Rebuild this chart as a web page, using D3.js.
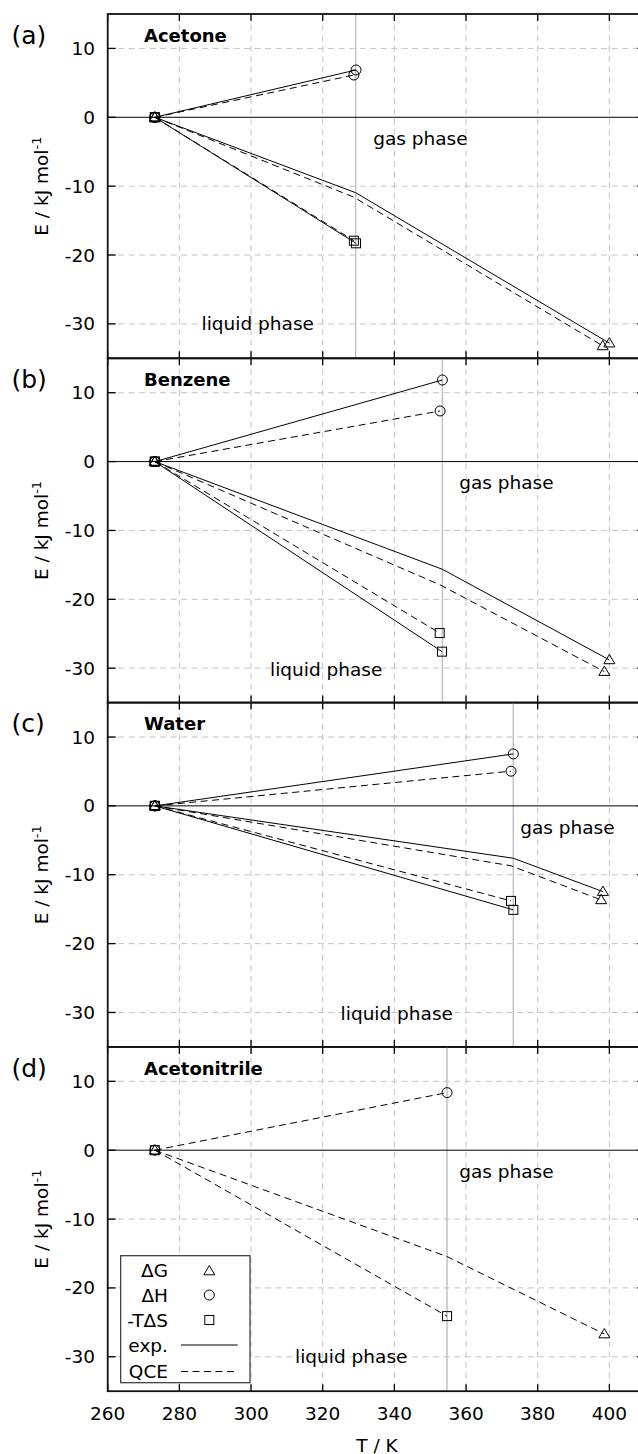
<!DOCTYPE html>
<html><head><meta charset="utf-8">
<script src="https://cdn.jsdelivr.net/npm/d3@7"></script>
<style>body{margin:0;background:#fff} text{font-family:"DejaVu Sans",sans-serif;fill:#000}</style>
</head><body>
<svg id="chart" width="638" height="1454" xmlns="http://www.w3.org/2000/svg"></svg>
<script>
// ---------- data ----------
const panelNames = ["Acetone", "Benzene", "Water", "Acetonitrile"];
const panelTags = ["(a)", "(b)", "(c)", "(d)"];
const meltT = 273.15;                       // common start point (E = 0)
const boilT = [329.2, 353.4, 373.2, 354.7]; // grey vertical lines

// experimental (null = not available)
const expH_T   = [329.3, 353.4, 373.2, null];
const expH_E   = [6.87, 11.85, 7.55, null];
const expS_T   = [329.3, 353.3, 373.2, null];
const expS_E   = [-18.3, -27.6, -15.1, null];
const expGk_T  = [329.2, 353.4, 373.2, null];
const expGk_E  = [-10.95, -15.64, -7.6, null];
const expGe_T  = [400.0, 400.0, 398.2, null];
const expGe_E  = [-32.8, -28.8, -12.45, null];

// QCE
const qceH_T   = [328.7, 352.75, 372.55, 354.7];
const qceH_E   = [6.14, 7.35, 5.04, 8.36];
const qceS_T   = [328.7, 352.65, 372.55, 354.7];
const qceS_E   = [-17.92, -24.9, -13.8, -24.1];
const qceGk_T  = [328.7, 352.75, 372.55, 354.7];
const qceGk_E  = [-11.6, -17.9, -8.7, -15.45];
const qceGe_T  = [398.15, 398.6, 397.7, 398.6];
const qceGe_E  = [-33.2, -30.5, -13.65, -26.7];

// annotation anchors (data coordinates)
const gasLabelT    = [334.1, 358.1, 375.1, 358.1];
const gasLabelE    = [-3.1, -3.1, -3.1, -3.1];
const liquidLabelT = [286.2, 305.3, 325.0, 312.3];
const liquidLabelE = [-30.0, -30.2, -30.1, -30.0];

const xTicks = [260, 280, 300, 320, 340, 360, 380, 400];
const yTicks = [10, 0, -10, -20, -30];
const xDomain = [260, 410];
const yDomain = [-35, 15];

const legendLabels = ["ΔG", "ΔH", "-TΔS", "exp.", "QCE"];

// ---------- layout ----------
const svg = d3.select("#chart");
const left = 107.7, right = 645.2;
const top0 = 14, ph = 344.3;
const x = d3.scaleLinear().domain(xDomain).range([left, right]);
const FS = 18.5;
const gridDash = "6,4.5", dataDash = "7,4.5";

function marker(g, type, px, py) {
  if (type === "tri") {
    g.append("path").attr("d", `M${px},${py-5.5}L${px+5.5},${py+3.8}L${px-5.5},${py+3.8}Z`)
      .attr("fill", "none").attr("stroke", "#000").attr("stroke-width", 1);
  } else if (type === "circ") {
    g.append("circle").attr("cx", px).attr("cy", py).attr("r", 5)
      .attr("fill", "none").attr("stroke", "#000").attr("stroke-width", 1);
  } else {
    g.append("rect").attr("x", px-4.5).attr("y", py-4.5).attr("width", 9).attr("height", 9)
      .attr("fill", "none").attr("stroke", "#000").attr("stroke-width", 1);
  }
}

for (let i = 0; i < 4; i++) {
  const t = top0 + i * ph, b = t + ph;
  const y = d3.scaleLinear().domain(yDomain).range([b, t]);
  const g = svg.append("g");

  // grid
  g.selectAll(".vg").data(xTicks.filter(v => v > xDomain[0])).enter().append("line")
    .attr("x1", d => x(d)).attr("x2", d => x(d)).attr("y1", t).attr("y2", b)
    .attr("stroke", "#c4c4c4").attr("stroke-width", 1).attr("stroke-dasharray", gridDash);
  g.selectAll(".hg").data(yTicks.filter(v => v !== 0)).enter().append("line")
    .attr("x1", left).attr("x2", right).attr("y1", d => y(d)).attr("y2", d => y(d))
    .attr("stroke", "#c4c4c4").attr("stroke-width", 1).attr("stroke-dasharray", gridDash);

  // boiling point line
  g.append("line").attr("x1", x(boilT[i])).attr("x2", x(boilT[i])).attr("y1", t).attr("y2", b)
    .attr("stroke", "#c2c2c2").attr("stroke-width", 1.5);

  // zero line
  g.append("line").attr("x1", left).attr("x2", right).attr("y1", y(0)).attr("y2", y(0))
    .attr("stroke", "#000").attr("stroke-width", 1);

  // data lines
  const line = d3.line().x(d => x(d[0])).y(d => y(d[1]));
  const sets = [
    {dash: null, H: [expH_T[i], expH_E[i]], S: [expS_T[i], expS_E[i]], Gk: [expGk_T[i], expGk_E[i]], Ge: [expGe_T[i], expGe_E[i]]},
    {dash: dataDash, H: [qceH_T[i], qceH_E[i]], S: [qceS_T[i], qceS_E[i]], Gk: [qceGk_T[i], qceGk_E[i]], Ge: [qceGe_T[i], qceGe_E[i]]}
  ];
  sets.forEach(s => {
    if (s.H[0] === null) return;
    const st = [meltT, 0];
    [[st, s.H], [st, s.S], [st, s.Gk, s.Ge]].forEach(pts => {
      g.append("path").attr("d", line(pts)).attr("fill", "none").attr("stroke", "#000")
        .attr("stroke-width", 1).attr("stroke-dasharray", s.dash);
    });
    marker(g, "circ", x(s.H[0]), y(s.H[1]));
    marker(g, "sq", x(s.S[0]), y(s.S[1]));
    marker(g, "tri", x(s.Ge[0]), y(s.Ge[1]));
    marker(g, "tri", x(meltT), y(0));
    marker(g, "circ", x(meltT), y(0));
    marker(g, "sq", x(meltT), y(0));
  });

  // ticks (inward)
  xTicks.forEach(v => {
    g.append("line").attr("x1", x(v)).attr("x2", x(v)).attr("y1", t).attr("y2", t + 7).attr("stroke", "#000").attr("stroke-width", 1.3);
    g.append("line").attr("x1", x(v)).attr("x2", x(v)).attr("y1", b).attr("y2", b - 7).attr("stroke", "#000").attr("stroke-width", 1.3);
  });
  yTicks.forEach(v => {
    g.append("line").attr("x1", left).attr("x2", left + 8).attr("y1", y(v)).attr("y2", y(v)).attr("stroke", "#000").attr("stroke-width", 1.3);
    g.append("line").attr("x1", right).attr("x2", right - 8).attr("y1", y(v)).attr("y2", y(v)).attr("stroke", "#000").attr("stroke-width", 1.3);
    g.append("text").attr("x", 95).attr("y", y(v)).attr("text-anchor", "end")
      .attr("dominant-baseline", "central").attr("font-size", FS).text(v);
  });

  // border
  g.append("rect").attr("x", left).attr("y", t).attr("width", right - left).attr("height", ph)
    .attr("fill", "none").attr("stroke", "#111").attr("stroke-width", 1.8);

  // texts
  g.append("text").attr("x", 144).attr("y", t + 27.6).attr("font-size", 18).attr("font-weight", "bold").text(panelNames[i]);
  g.append("text").attr("x", 11.5).attr("y", t + 21.3).attr("dominant-baseline", "central").attr("font-size", 25).text(panelTags[i]);
  g.append("text").attr("x", x(gasLabelT[i])).attr("y", y(gasLabelE[i])).attr("dominant-baseline", "central").attr("font-size", FS).text("gas phase");
  g.append("text").attr("x", x(liquidLabelT[i])).attr("y", y(liquidLabelE[i])).attr("dominant-baseline", "central").attr("font-size", FS).text("liquid phase");

  const yl = g.append("text").attr("transform", `translate(48,${t + ph / 2}) rotate(-90)`)
    .attr("text-anchor", "middle").attr("font-size", FS);
  yl.append("tspan").text("E / kJ mol");
  yl.append("tspan").attr("font-size", 13).attr("dy", -7).text("-1");

  if (i === 3) {
    xTicks.forEach(v => {
      g.append("text").attr("x", x(v)).attr("y", b + 22.3).attr("text-anchor", "middle")
        .attr("dominant-baseline", "central").attr("font-size", FS).text(v);
    });
    g.append("text").attr("x", 377).attr("y", 1445).attr("text-anchor", "middle")
      .attr("dominant-baseline", "central").attr("font-size", FS).text("T / K");

    // legend
    const lg = svg.append("g");
    lg.append("rect").attr("x", 120.7).attr("y", 1255.7).attr("width", 129.3).attr("height", 127)
      .attr("fill", "#fff").attr("stroke", "#333").attr("stroke-width", 1.2);
    const rows = [1270, 1295, 1320, 1345, 1371.5];
    legendLabels.forEach((lab, k) => {
      lg.append("text").attr("x", 168).attr("y", rows[k]).attr("text-anchor", "end")
        .attr("dominant-baseline", "central").attr("font-size", FS).text(lab);
    });
    marker(lg, "tri", 209.3, rows[0] + 1);
    marker(lg, "circ", 209.3, rows[1]);
    marker(lg, "sq", 209.3, rows[2]);
    lg.append("line").attr("x1", 181).attr("x2", 237.7).attr("y1", rows[3]).attr("y2", rows[3]).attr("stroke", "#000");
    lg.append("line").attr("x1", 181).attr("x2", 237.7).attr("y1", rows[4]).attr("y2", rows[4]).attr("stroke", "#000").attr("stroke-dasharray", dataDash);
  }
}
</script>
</body></html>
